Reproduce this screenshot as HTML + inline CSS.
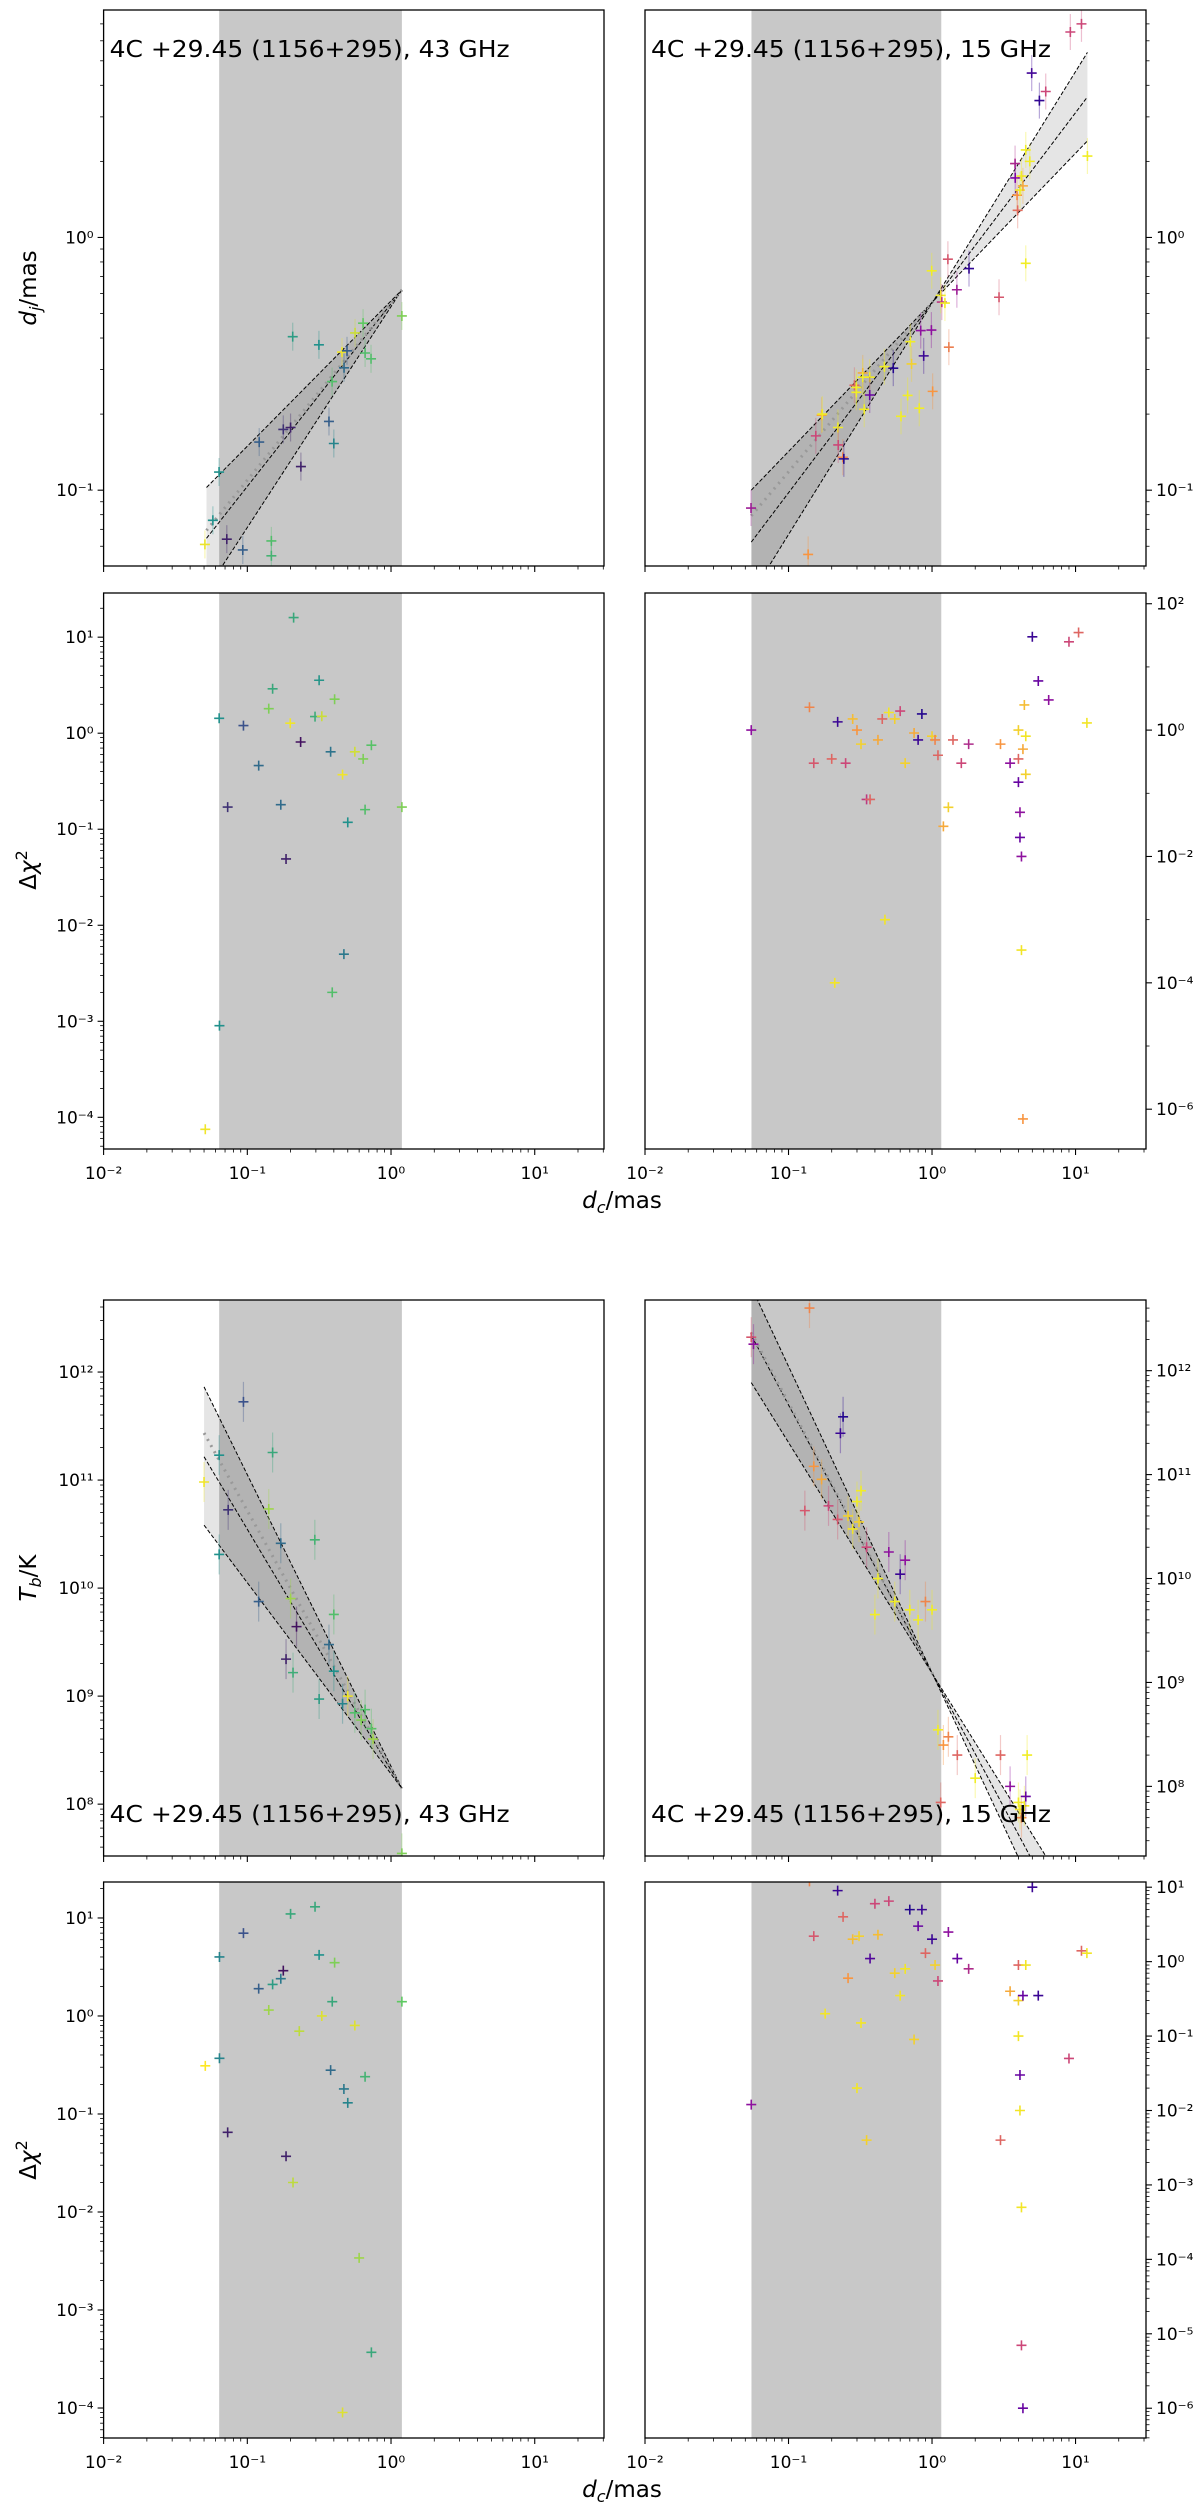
<!DOCTYPE html>
<html><head><meta charset="utf-8"><style>
body{margin:0;background:#fff}
svg{display:block;font-family:"DejaVu Sans","Liberation Sans",sans-serif}
</style></head><body>
<svg id="fig" width="1200" height="2507" viewBox="0 0 1200 2507" xmlns="http://www.w3.org/2000/svg">
<rect width="1200" height="2507" fill="#fff"/>
<text transform="translate(36,288) rotate(-90)" text-anchor="middle" font-size="23"><tspan font-style="italic">d</tspan><tspan font-style="italic" font-size="16" dy="5">j</tspan><tspan dy="-5">/mas</tspan></text>
<text transform="translate(36,870) rotate(-90)" text-anchor="middle" font-size="23">Δ<tspan font-style="italic">χ</tspan><tspan font-size="16" dy="-9">2</tspan></text>
<text transform="translate(36,1578) rotate(-90)" text-anchor="middle" font-size="23"><tspan font-style="italic">T</tspan><tspan font-style="italic" font-size="16" dy="5">b</tspan><tspan dy="-5">/K</tspan></text>
<text transform="translate(36,2160) rotate(-90)" text-anchor="middle" font-size="23">Δ<tspan font-style="italic">χ</tspan><tspan font-size="16" dy="-9">2</tspan></text>
<text x="622" y="1208" text-anchor="middle" font-size="23"><tspan font-style="italic">d</tspan><tspan font-style="italic" font-size="16" dy="5">c</tspan><tspan dy="-5">/mas</tspan></text>
<text x="622" y="2497" text-anchor="middle" font-size="23"><tspan font-style="italic">d</tspan><tspan font-style="italic" font-size="16" dy="5">c</tspan><tspan dy="-5">/mas</tspan></text>
</svg>
<script>
// ---- data: 43 GHz d_j
const dj43X=[0.0636,0.0576,0.072,0.093,0.121,0.147,0.147,0.178,0.20,0.207,0.236,0.315,0.37,0.389,0.40,0.456,0.471,0.494,0.562,0.639,0.66,0.726,1.19,0.0507];
const dj43Y=[0.118,0.076,0.064,0.058,0.155,0.063,0.055,0.174,0.177,0.405,0.124,0.376,0.187,0.269,0.153,0.352,0.305,0.356,0.419,0.458,0.349,0.331,0.489,0.061];
const dj43C=[0.5,0.5,0.1,0.3,0.3,0.7,0.65,0.15,0.1,0.55,0.1,0.5,0.3,0.7,0.45,0.98,0.35,0.3,0.92,0.75,0.7,0.7,0.8,0.97];
// ---- 15 GHz d_j
const dj15X=[0.0548,0.137,0.155,0.170,0.172,0.221,0.222,0.239,0.243,0.288,0.297,0.297,0.329,0.329,0.368,0.368,0.337,0.466,0.537,0.608,0.676,0.706,0.72,0.815,0.834,0.875,0.99,0.995,1.01,1.15,1.17,1.23,1.29,1.31,1.49,1.81,2.93,3.79,3.8,3.91,3.95,4.1,4.2,4.3,4.5,4.8,4.5,4.95,5.6,6.2,9.2,11.0,12.1];
const dj15Y=[0.085,0.0557,0.164,0.198,0.2,0.177,0.151,0.135,0.133,0.26,0.255,0.244,0.291,0.28,0.28,0.238,0.209,0.308,0.304,0.196,0.237,0.387,0.316,0.211,0.428,0.34,0.43,0.738,0.246,0.59,0.555,0.55,0.82,0.368,0.621,0.753,0.58,1.96,1.72,1.47,1.28,1.54,1.75,1.6,2.22,2.0,0.79,4.47,3.48,3.78,6.5,7.0,2.1];
const dj15C=[0.35,0.75,0.5,0.8,0.97,0.97,0.5,0.7,0.05,0.6,0.97,0.97,0.8,0.97,0.97,0.2,0.97,0.97,0.05,0.97,0.97,0.97,0.9,0.97,0.3,0.1,0.3,0.97,0.75,0.97,0.45,0.97,0.55,0.68,0.35,0.08,0.55,0.4,0.25,0.75,0.62,0.97,0.97,0.8,0.97,0.97,0.97,0.12,0.08,0.5,0.5,0.5,0.97];
// ---- 43 GHz delta chi2 (top)
const chiA43X=[0.0637,0.073,0.094,0.12,0.141,0.15,0.171,0.186,0.199,0.235,0.296,0.316,0.33,0.38,0.405,0.46,0.5,0.56,0.64,0.66,0.73,1.19,0.064,0.051,0.47,0.39,0.21];
const chiA43Y=[1.43,0.17,1.2,0.46,1.8,2.9,0.18,0.049,1.27,0.81,1.49,3.56,1.5,0.64,2.26,0.37,0.118,0.64,0.54,0.16,0.75,0.17,0.0009,0.000075,0.005,0.002,16];
const chiA43C=[0.5,0.15,0.25,0.35,0.8,0.6,0.35,0.1,0.98,0.05,0.62,0.52,0.92,0.38,0.8,0.98,0.5,0.93,0.8,0.7,0.72,0.8,0.5,0.98,0.4,0.7,0.6];
// ---- 15 GHz delta chi2 (top)
const chiA15X=[0.055,0.14,0.15,0.2,0.22,0.21,0.25,0.28,0.3,0.32,0.35,0.37,0.42,0.45,0.47,0.5,0.55,0.6,0.65,0.75,0.8,0.85,1.0,1.05,1.1,1.2,1.3,1.4,1.6,1.8,3.0,3.5,4.0,4.0,4.1,4.1,4.2,4.2,4.3,4.3,4.4,4.5,5.0,5.5,6.5,9.0,10.5,12,4.5,4.0];
const chiA15Y=[1.0,2.3,0.3,0.35,1.35,0.0001,0.3,1.5,1.0,0.6,0.08,0.08,0.7,1.5,0.001,1.9,1.5,2.0,0.3,0.9,0.7,1.8,0.8,0.7,0.4,0.03,0.06,0.7,0.3,0.6,0.6,0.3,1.0,0.15,0.05,0.02,0.01,0.00033,7e-7,0.5,2.5,0.2,30,6,3,25,35,1.3,0.8,0.35];
const chiA15C=[0.3,0.7,0.55,0.6,0.1,0.95,0.5,0.85,0.75,0.9,0.45,0.6,0.8,0.6,0.95,0.95,0.9,0.5,0.9,0.8,0.1,0.05,0.9,0.7,0.6,0.8,0.9,0.6,0.5,0.4,0.75,0.3,0.9,0.2,0.3,0.2,0.3,0.95,0.75,0.8,0.85,0.9,0.1,0.2,0.3,0.5,0.6,0.95,0.95,0.6];
// ---- 43 GHz T_b
const tb43X=[0.050,0.0637,0.0637,0.0736,0.094,0.141,0.15,0.171,0.295,0.186,0.208,0.316,0.12,0.20,0.22,0.37,0.40,0.40,0.46,0.50,0.56,0.62,0.66,0.73,0.75,1.19];
const tb43Y=[9.6e10,1.7e11,2.05e10,5.3e10,5.3e11,5.4e10,1.8e11,2.6e10,2.8e10,2.2e9,1.65e9,9.4e8,7.5e9,8e9,4.4e9,3e9,5.7e9,1.7e9,8.5e8,1e9,7e8,6e8,7.5e8,5e8,4e8,3.5e7];
const tb43C=[0.98,0.5,0.5,0.15,0.25,0.85,0.6,0.35,0.65,0.1,0.62,0.55,0.3,0.85,0.05,0.35,0.7,0.5,0.45,0.98,0.7,0.8,0.7,0.72,0.85,0.8];
// ---- 15 GHz T_b
const tb15X=[0.055,0.057,0.14,0.13,0.15,0.17,0.19,0.22,0.23,0.24,0.26,0.28,0.3,0.31,0.32,0.35,0.4,0.42,0.5,0.55,0.6,0.7,0.8,0.9,1.0,1.1,1.2,1.3,1.5,2.0,3.0,3.5,4.0,4.1,4.2,4.4,4.5,4.6,1.15,0.65];
const tb15Y=[2.1e12,1.8e12,4e12,4.5e10,1.2e11,9e10,5e10,3.7e10,2.5e11,3.6e11,4e10,3e10,5.5e10,3.5e10,7e10,2e10,4.5e9,1e10,1.8e10,6e9,1.1e10,5e9,4e9,6e9,5e9,3.5e8,2.5e8,3e8,2e8,1.2e8,2e8,1e8,7e7,6e7,5e7,6.5e7,8e7,2e8,7e7,1.5e10];
const tb15C=[0.55,0.3,0.7,0.55,0.75,0.8,0.5,0.55,0.1,0.05,0.9,0.95,0.97,0.9,0.97,0.5,0.97,0.97,0.3,0.97,0.1,0.97,0.97,0.7,0.97,0.97,0.75,0.7,0.6,0.97,0.6,0.3,0.97,0.95,0.7,0.97,0.2,0.97,0.6,0.3];
// ---- 43 GHz delta chi2 (bottom)
const chiB43X=[0.051,0.064,0.064,0.073,0.094,0.12,0.141,0.15,0.171,0.178,0.186,0.2,0.208,0.296,0.316,0.33,0.38,0.39,0.405,0.46,0.47,0.5,0.56,0.6,0.66,0.73,1.19,0.23];
const chiB43Y=[0.31,4.0,0.37,0.065,7,1.9,1.15,2.1,2.4,2.9,0.037,11,0.02,13,4.2,1.0,0.28,1.4,3.5,0.00009,0.18,0.13,0.8,0.0034,0.24,0.00037,1.4,0.7];
const chiB43C=[1.0,0.45,0.45,0.1,0.25,0.3,0.85,0.55,0.4,0.05,0.1,0.6,0.9,0.6,0.5,0.95,0.35,0.6,0.8,0.95,0.4,0.45,0.95,0.85,0.65,0.6,0.75,0.9];
// ---- 15 GHz delta chi2 (bottom)
const chiB15X=[0.055,0.14,0.15,0.18,0.22,0.24,0.26,0.28,0.3,0.31,0.32,0.35,0.37,0.4,0.42,0.5,0.55,0.6,0.65,0.7,0.75,0.8,0.85,0.9,1.0,1.05,1.1,1.3,1.5,1.8,3.0,3.5,4.0,4.0,4.0,4.1,4.1,4.2,4.2,4.3,4.3,4.5,5.0,5.5,9.0,11,12];
const chiB15Y=[0.012,12,2.2,0.2,9,4,0.6,2,0.02,2.2,0.15,0.004,1.1,6,2.3,6.5,0.7,0.35,0.8,5,0.09,3,5,1.3,2,0.9,0.55,2.5,1.1,0.8,0.004,0.4,0.9,0.3,0.1,0.03,0.01,0.0005,7e-6,1e-6,0.35,0.9,10,0.35,0.05,1.4,1.3];
const chiB15C=[0.3,0.7,0.55,0.95,0.1,0.6,0.75,0.85,0.95,0.9,0.95,0.9,0.15,0.5,0.85,0.5,0.9,0.95,0.95,0.05,0.9,0.2,0.1,0.6,0.1,0.9,0.5,0.3,0.2,0.4,0.6,0.8,0.6,0.9,0.95,0.2,0.95,0.95,0.5,0.2,0.2,0.95,0.1,0.1,0.5,0.6,0.95];
// ---- fits: pivot, slopes (shallow, middle, steep), dotted slope, x-range
const fitDj43=[1.19,0.62,0.575,0.723,0.874,0.70,0.052,1.19];
const fitDj15=[1.02,0.56,0.59,0.752,0.916,0.67,0.055,12.1];
const fitTb43=[1.19,1.4e8,-1.77,-2.23,-2.70,-2.39,0.050,1.19];
const fitTb15=[1.01,1.2e9,-2.22,-2.58,-2.95,-2.6,0.055,12];
const xTickLabels=["10\u207B\u00B2","10\u207B\u00B9","10\u2070","10\u00B9"];

const NS="http://www.w3.org/2000/svg";
const svg=document.getElementById('fig');
function mk(tag,attrs,parent){const e=document.createElementNS(NS,tag);for(const k in attrs)e.setAttribute(k,attrs[k]);(parent||svg).appendChild(e);return e;}
function lerpC(stops,t){t=Math.max(0,Math.min(1,t));const n=stops.length-1;const i=Math.min(n-1,Math.floor(t*n));const f=t*n-i;const a=stops[i],b=stops[i+1];
 const h=s=>[parseInt(s.substr(1,2),16),parseInt(s.substr(3,2),16),parseInt(s.substr(5,2),16)];const A=h(a),B=h(b);
 return 'rgb('+A.map((v,k)=>Math.round(v+(B[k]-v)*f)).join(',')+')';}
const VIR=['#440154','#3b528b','#21918c','#5ec962','#fde725'];
const PLA=['#0d0887','#7e03a8','#cc4778','#f89540','#f0f921'];
const SUP={'-':'\u207B','0':'\u2070','1':'\u00B9','2':'\u00B2','3':'\u00B3','4':'\u2074','5':'\u2075','6':'\u2076','7':'\u2077','8':'\u2078','9':'\u2079'};
let clipN=0;
function panel(P,name,X,Y,C,cmap,fit){
 const lx=v=>P.x0+(Math.log10(v)-P.lx0)/(P.lx1-P.lx0)*(P.x1-P.x0);
 const ly=v=>P.y1-(Math.log10(v)-P.ly0)/(P.ly1-P.ly0)*(P.y1-P.y0);
 const g=mk('g',{});
 
 
 const cid='clip'+(clipN++);
 const cp=mk('clipPath',{id:cid},g);mk('rect',{x:P.x0,y:P.y0,width:P.x1-P.x0,height:P.y1-P.y0},cp);
 const inner=mk('g',{'clip-path':'url(#'+cid+')'},g);
 const sh=mk('rect',{x:lx(P.g0),y:P.y0,width:lx(P.g1)-lx(P.g0),height:P.y1-P.y0,fill:'#c8c8c8'},inner);
 
 
 if(fit){
  const [px,py,s1,s2,s3,sd,xa,xb]=fit;
  const f=(s,x)=>py*Math.pow(x/px,s);
  const pts=[[xa,f(s1,xa)],[px,py],[xb,f(s3,xb)],[xb,f(s1,xb)],[px,py],[xa,f(s3,xa)]];
  const band=mk('polygon',{points:pts.map(p=>lx(p[0])+','+ly(p[1])).join(' '),fill:'#000','fill-opacity':0.1},inner);
  
  
  [s1,s2,s3].forEach(s=>{const l=mk('line',{x1:lx(xa),y1:ly(f(s,xa)),x2:lx(xb),y2:ly(f(s,xb)),stroke:'#000','stroke-width':1,'stroke-dasharray':'4,2'},inner);
   
   });
  const d=mk('line',{x1:lx(xa),y1:ly(f(sd,xa)),x2:lx(px),y2:ly(py),stroke:'#999','stroke-width':3,'stroke-dasharray':'2,5'},inner);
  
  
 }
 const n=Math.min(X.length,Y.length,C.length);
 for(let i=0;i<n;i++){const cx=lx(X[i]),cy=ly(Y[i]),col=lerpC(cmap,C[i]);
  if(P.err){const e=mk('line',{x1:cx,y1:cy-P.err,x2:cx,y2:cy+P.err,stroke:col,'stroke-width':1.2,'stroke-opacity':0.35},inner);
   
   }
  const m=mk('path',{d:`M${cx-5},${cy}H${cx+5}M${cx},${cy-5}V${cy+5}`,stroke:col,'stroke-width':1.6},inner);
  
  }
 const fr=mk('rect',{x:P.x0,y:P.y0,width:P.x1-P.x0,height:P.y1-P.y0,fill:'none',stroke:'#000','stroke-width':1.3},g);
 
 
 for(let d=-2;d<=1;d++){for(let k=1;k<=9;k++){const v=k*Math.pow(10,d);const lv=Math.log10(v);if(lv>P.lx1)continue;
  const x=lx(v);const L=k==1?6:3.5;mk('line',{x1:x,y1:P.y1,x2:x,y2:P.y1+L,stroke:'#000','stroke-width':k==1?1.1:0.8},g);
  if(k==1&&P.xlab){const t=mk('text',{x:x,y:P.y1+30,'text-anchor':'middle','font-size':17},g);t.textContent=xTickLabels[d+2];
   
   }}}
 const right=P.side=='r';const ax=right?P.x1:P.x0;const dir=right?1:-1;
 for(let d=Math.floor(P.ly0);d<=Math.ceil(P.ly1);d++){
  for(let k=1;k<=9;k++){const lv=d+Math.log10(k);if(lv<P.ly0||lv>P.ly1)continue;
   if(k>1&&!P.minor)continue;
   const y=ly(Math.pow(10,lv));const major=k==1&&((d%P.every)==0);const L=major?6:3.5;
   mk('line',{x1:ax,y1:y,x2:ax+dir*L,y2:y,stroke:'#000','stroke-width':major?1.1:0.8},g);
   if(major){const s=String(d).split('').map(c=>SUP[c]).join('');
    const t=mk('text',{x:ax+dir*10,y:y+6,'text-anchor':right?'start':'end','font-size':17},g);t.textContent='10'+s;
    
    }}}
 if(P.title){const t=mk('text',{x:P.x0+6,y:P.ty,'font-size':23,textLength:400,lengthAdjust:'spacingAndGlyphs'},g);t.textContent=P.title;
  
  }
}
const L={x0:103.6,x1:604,lx0:-2,lx1:1.482,g0:0.0637,g1:1.19,side:'l'};
const R={x0:645,x1:1146,lx0:-2,lx1:1.491,g0:0.0552,g1:1.16,side:'r'};
panel(Object.assign({},L,{y0:10,y1:566,ly0:-1.30,ly1:0.90,minor:true,every:1,err:14,title:'4C +29.45 (1156+295), 43 GHz',ty:57}),'panel-dj-43ghz',dj43X,dj43Y,dj43C,VIR,fitDj43);
panel(Object.assign({},R,{y0:10,y1:566,ly0:-1.30,ly1:0.90,minor:true,every:1,err:18,title:'4C +29.45 (1156+295), 15 GHz',ty:57}),'panel-dj-15ghz',dj15X,dj15Y,dj15C,PLA,fitDj15);
panel(Object.assign({},L,{y0:593,y1:1149,ly0:-4.33,ly1:1.46,minor:true,every:1,xlab:true}),'panel-chi2-dj-43ghz',chiA43X,chiA43Y,chiA43C,VIR,null);
panel(Object.assign({},R,{y0:593,y1:1149,ly0:-6.63,ly1:2.17,minor:false,every:2,xlab:true}),'panel-chi2-dj-15ghz',chiA15X,chiA15Y,chiA15C,PLA,null);
panel(Object.assign({},L,{y0:1300,y1:1856,ly0:7.52,ly1:12.667,minor:true,every:1,err:20,title:'4C +29.45 (1156+295), 43 GHz',ty:1822}),'panel-tb-43ghz',tb43X,tb43Y,tb43C,VIR,fitTb43);
panel(Object.assign({},R,{y0:1300,y1:1856,ly0:7.33,ly1:12.68,minor:true,every:1,err:20,title:'4C +29.45 (1156+295), 15 GHz',ty:1822}),'panel-tb-15ghz',tb15X,tb15Y,tb15C,PLA,fitTb15);
panel(Object.assign({},L,{y0:1882,y1:2438,ly0:-4.306,ly1:1.367,minor:true,every:1,xlab:true}),'panel-chi2-tb-43ghz',chiB43X,chiB43Y,chiB43C,VIR,null);
panel(Object.assign({},R,{y0:1882,y1:2438,ly0:-6.40,ly1:1.07,minor:true,every:1,xlab:true}),'panel-chi2-tb-15ghz',chiB15X,chiB15Y,chiB15C,PLA,null);
</script>
</body></html>
